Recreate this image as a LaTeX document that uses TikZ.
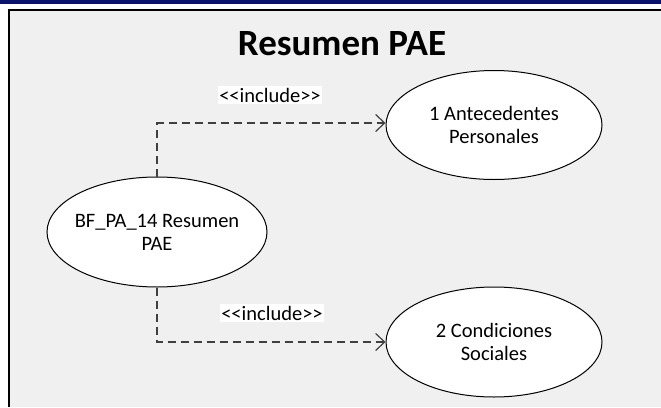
\documentclass[tikz,border=0pt]{standalone}
\usepackage{fontspec}
\setmainfont{Carlito}
\usetikzlibrary{arrows.meta,shapes.geometric,positioning}
\definecolor{bar blue}{RGB}{10,18,112}
\definecolor{panel gray}{RGB}{240,240,240}
\tikzstyle{usecase} = [ellipse,draw,fill=white,line width=1pt,inner sep=0pt]
\tikzstyle{case text} = [align=center,inner sep=0pt,font=\fontsize{20.5}{23}\selectfont]
\tikzstyle{include line} = [black!75,line width=1.2pt,dash pattern=on 8pt off 5pt,-{Straight Barb[length=9pt,width=17pt,line width=1.2pt]}]
\tikzstyle{stereotype} = [fill=white,inner sep=1.5pt,font=\fontsize{20.5}{23}\selectfont]
\newcommand{\stereo}[1]{<\kern0pt<#1>\kern0pt>}

\begin{document}
\begin{tikzpicture}[x=1pt,y=-1pt]
        \useasboundingbox (0,0) rectangle (661,407);

        % window frame
        \fill[bar blue] (0,0) rectangle (661,4);
        \fill[panel gray] (9,10) rectangle (661,407);
        \draw[line width=2.5pt] (9,407) -- (9,10) -- (661,10);

        \node[font=\bfseries\fontsize{37}{40}\selectfont] (title) at (342,44) {Resumen PAE};

        % use cases
        \node[usecase,minimum width=220pt,minimum height=110pt] (bf) at (157,232) {};
        \node[usecase,minimum width=216pt,minimum height=109pt] (ant) at (494,125) {};
        \node[usecase,minimum width=216pt,minimum height=110pt] (cond) at (494,342) {};

        \node[case text] (bf text) at (bf.center) {BF\_PA\_14 Resumen\\PAE};
        \node[case text] (ant text) at (ant.center) {1 Antecedentes\\Personales};
        \node[case text] (cond text) at (cond.center) {2 Condiciones\\Sociales};

        % include relations
        \coordinate (split a) at (157,123);
        \draw[include line] (bf.north) -- (split a) -- (split a -| ant.west);
        \draw[include line] (bf.south) |- (cond.west);

        \node[stereotype] (inc1) at (270,95) {\stereo{include}};
        \node[stereotype] (inc2) at (272,313) {\stereo{include}};
\end{tikzpicture}
\end{document}
